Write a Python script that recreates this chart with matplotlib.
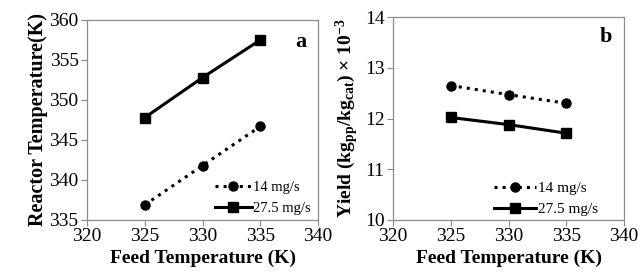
import matplotlib
matplotlib.use('Agg')
import matplotlib.pyplot as plt

plt.rcParams['font.family'] = ['Liberation Serif', 'DejaVu Serif']
plt.rcParams['mathtext.fontset'] = 'custom'
plt.rcParams['mathtext.rm'] = 'Liberation Serif:bold'
plt.rcParams['mathtext.bf'] = 'Liberation Serif:bold'
plt.rcParams['mathtext.it'] = 'Liberation Serif:bold'

# data
feed_temp = [325, 330, 335]
reactor_14 = [336.9, 341.8, 346.7]
reactor_275 = [347.8, 352.8, 357.5]
yield_14 = [12.65, 12.47, 12.30]
yield_275 = [12.02, 11.88, 11.71]
labels = ['14 mg/s', '27.5 mg/s']

fig = plt.figure(figsize=(6.38, 2.75), dpi=100)
ax1 = fig.add_axes([87/638, 1 - 220/275, (318 - 87)/638, (220 - 20)/275])
ax2 = fig.add_axes([393/638, 1 - 220/275, (624 - 393)/638, (220 - 17)/275])


def style(ax):
    for s in ax.spines.values():
        s.set_color('#8c8c8c')
        s.set_linewidth(0.9)
    ax.tick_params(direction='out', length=4, color='#8c8c8c', labelsize=14, pad=2)
    ax.set_xlim(320, 340)
    ax.set_xticks([320, 325, 330, 335, 340])
    ax.set_xlabel('Feed Temperature (K)', fontsize=14, fontweight='bold', labelpad=3)


# panel a
ax1.plot(feed_temp, reactor_14, color='black', ls=':', lw=2.2, marker='o', ms=6.5, label=labels[0])
ax1.plot(feed_temp, reactor_275, color='black', ls='-', lw=2.2, marker='s', ms=6.5, label=labels[1])
style(ax1)
ax1.set_ylim(335, 360)
ax1.set_yticks([335, 340, 345, 350, 355, 360])
ax1.set_ylabel('Reactor Temperature(K)', fontsize=14.5, fontweight='bold', labelpad=1)
ax1.text(0.95, 0.89, 'a', transform=ax1.transAxes, fontsize=16, fontweight='bold', ha='right', va='center')
ax1.legend(loc='lower right', frameon=False, fontsize=10.5, handlelength=2.5, handletextpad=0.1,
           borderaxespad=0.1, labelspacing=0.5, bbox_to_anchor=(1.0, -0.01))

# panel b
ax2.plot(feed_temp, yield_14, color='black', ls=':', lw=2.2, marker='o', ms=6.5, label=labels[0])
ax2.plot(feed_temp, yield_275, color='black', ls='-', lw=2.2, marker='s', ms=6.5, label=labels[1])
style(ax2)
ax2.set_ylim(10, 14)
ax2.set_yticks([10, 11, 12, 13, 14])
ax2.set_ylabel(r'Yield (kg$_{pp}$/kg$_{cat}$) × 10$^{-3}$', fontsize=14, fontweight='bold', labelpad=3)
ax2.text(0.95, 0.9, 'b', transform=ax2.transAxes, fontsize=16, fontweight='bold', ha='right', va='center')
ax2.legend(loc='lower right', frameon=False, fontsize=11, handlelength=2.8, handletextpad=0.1,
           borderaxespad=0.1, labelspacing=0.5, bbox_to_anchor=(0.92, -0.02))

fig.savefig('out.png', dpi=100)
